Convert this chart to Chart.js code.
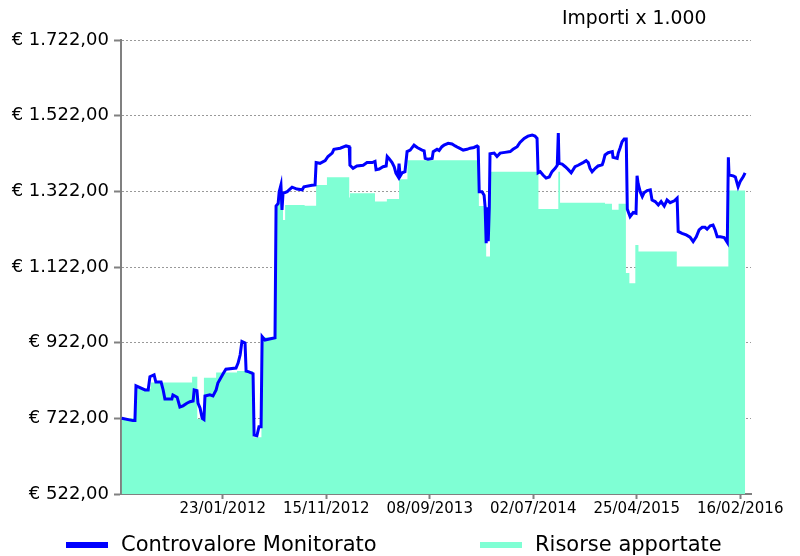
<!DOCTYPE html>
<html>
<head>
<meta charset="utf-8">
<script src="https://cdn.jsdelivr.net/npm/chart.js@4.4.1/dist/chart.umd.min.js"></script>
<style>
    body { margin: 0; background: #fff; font-family: 'DejaVu Sans', sans-serif; }
    #wrap { position: relative; width: 800px; height: 556px; }
    #title { position: absolute; left: 562px; top: 7px; font-size: 18.8px; line-height: 22px; color: #000; white-space: nowrap; }
    .legend-box { position: absolute; height: 6px; width: 42px; top: 542px; }
    .legend-text { position: absolute; top: 532px; font-size: 21px; line-height: 24px; color: #000; white-space: nowrap; }
</style>
</head>
<body>
<div id="wrap">
    <canvas id="line-chart"></canvas>
    <div id="title">Importi x 1.000</div>
    <div class="legend-box" style="left:66px;background:#0000FF"></div>
    <div class="legend-text" style="left:121px">Controvalore Monitorato</div>
    <div class="legend-box" style="left:480px;background:#7FFFD4"></div>
    <div class="legend-text" style="left:535px">Risorse apportate</div>
</div>
<script>

// Controvalore Monitorato (blue line)
const monitoredDates = [
    '2011-04-08', '2011-05-10', '2011-05-16', '2011-05-19', '2011-06-14', '2011-06-23', '2011-06-28', '2011-07-10',
    '2011-07-15', '2011-07-30', '2011-08-05', '2011-08-10', '2011-08-30', '2011-09-02', '2011-09-14', '2011-09-22',
    '2011-10-01', '2011-10-12', '2011-10-21', '2011-10-30', '2011-11-02', '2011-11-10', '2011-11-13', '2011-11-19',
    '2011-11-25', '2011-11-30', '2011-12-03', '2011-12-17', '2011-12-26', '2012-01-04', '2012-01-09', '2012-01-24',
    '2012-02-01', '2012-03-01', '2012-03-07', '2012-03-13', '2012-03-18', '2012-03-27', '2012-03-30', '2012-04-07',
    '2012-04-19', '2012-04-22', '2012-04-30', '2012-05-06', '2012-05-12', '2012-05-15', '2012-05-23', '2012-06-21',
    '2012-06-24', '2012-06-30', '2012-07-03', '2012-07-08', '2012-07-11', '2012-07-14', '2012-07-26', '2012-08-09',
    '2012-08-23', '2012-09-07', '2012-09-12', '2012-10-05', '2012-10-14', '2012-10-17', '2012-10-28', '2012-11-12',
    '2012-11-20', '2012-12-02', '2012-12-07', '2012-12-25', '2013-01-11', '2013-01-20', '2013-01-22', '2013-01-31',
    '2013-02-11', '2013-03-01', '2013-03-12', '2013-03-27', '2013-04-04', '2013-04-07', '2013-04-16', '2013-04-27',
    '2013-05-06', '2013-05-09', '2013-05-14', '2013-05-23', '2013-05-29', '2013-06-03', '2013-06-09', '2013-06-12',
    '2013-06-15', '2013-06-21', '2013-06-29', '2013-07-05', '2013-07-14', '2013-07-25', '2013-08-03', '2013-08-17',
    '2013-08-23', '2013-08-26', '2013-09-03', '2013-09-15', '2013-09-18', '2013-09-29', '2013-10-05', '2013-10-13',
    '2013-10-19', '2013-10-31', '2013-11-11', '2013-11-20', '2013-11-28', '2013-12-13', '2013-12-24', '2014-01-02',
    '2014-01-13', '2014-01-22', '2014-01-25', '2014-01-28', '2014-02-05', '2014-02-11', '2014-02-14', '2014-02-17',
    '2014-02-20', '2014-02-23', '2014-02-26', '2014-02-28', '2014-03-12', '2014-03-20', '2014-03-29', '2014-04-12',
    '2014-04-27', '2014-05-05', '2014-05-17', '2014-05-25', '2014-06-06', '2014-06-17', '2014-06-29', '2014-07-07',
    '2014-07-13', '2014-07-16', '2014-07-22', '2014-07-30', '2014-08-08', '2014-08-17', '2014-08-25', '2014-09-03',
    '2014-09-09', '2014-09-12', '2014-09-14', '2014-09-23', '2014-10-02', '2014-10-10', '2014-10-19', '2014-10-30',
    '2014-11-08', '2014-11-22', '2014-12-01', '2014-12-07', '2014-12-12', '2014-12-18', '2014-12-27', '2015-01-04',
    '2015-01-16', '2015-01-19', '2015-01-24', '2015-02-02', '2015-02-14', '2015-02-16', '2015-02-28', '2015-03-03',
    '2015-03-08', '2015-03-14', '2015-03-20', '2015-03-26', '2015-03-29', '2015-04-06', '2015-04-15', '2015-04-23',
    '2015-04-26', '2015-04-29', '2015-05-05', '2015-05-11', '2015-05-16', '2015-05-25', '2015-06-03', '2015-06-08',
    '2015-06-17', '2015-06-26', '2015-07-04', '2015-07-13', '2015-07-21', '2015-07-30', '2015-08-11', '2015-08-19',
    '2015-08-22', '2015-09-02', '2015-09-14', '2015-09-25', '2015-10-04', '2015-10-13', '2015-10-21', '2015-10-30',
    '2015-11-07', '2015-11-13', '2015-11-22', '2015-11-30', '2015-12-06', '2015-12-12', '2015-12-21', '2016-01-01',
    '2016-01-10', '2016-01-13', '2016-01-15', '2016-01-27', '2016-02-02', '2016-02-10', '2016-02-16', '2016-02-25',
    '2016-03-01'
];
const monitoredValues = [
    722, 716, 716, 808, 797, 797, 832, 837,
    818, 818, 797, 773, 773, 784, 778, 752,
    755, 762, 766, 768, 797, 795, 762, 749,
    722, 719, 781, 784, 781, 797, 815, 840,
    852, 855, 868, 890, 925, 921, 847, 845,
    840, 678, 676, 700, 700, 938, 929, 935,
    1283, 1290, 1321, 1339, 1273, 1317, 1321, 1333,
    1328, 1326, 1334, 1338, 1339, 1398, 1396, 1403,
    1414, 1423, 1433, 1436, 1442, 1440, 1391, 1383,
    1389, 1391, 1398, 1398, 1401, 1379, 1381, 1387,
    1389, 1414, 1409, 1398, 1387, 1370, 1361, 1395,
    1362, 1371, 1374, 1427, 1431, 1444, 1438, 1431,
    1429, 1409, 1407, 1409, 1427, 1433, 1430, 1440,
    1444, 1449, 1447, 1442, 1438, 1431, 1433, 1436,
    1438, 1442, 1440, 1321, 1321, 1312, 1280, 1185,
    1280, 1190, 1280, 1421, 1423, 1414, 1423, 1425,
    1427, 1433, 1440, 1451, 1462, 1468, 1471, 1468,
    1462, 1371, 1374, 1365, 1357, 1360, 1374, 1383,
    1391, 1476, 1396, 1394, 1387, 1380, 1371, 1387,
    1391, 1398, 1403, 1398, 1383, 1374, 1383, 1389,
    1392, 1400, 1418, 1424, 1427, 1412, 1409, 1423,
    1436, 1453, 1460, 1460, 1275, 1255, 1266, 1264,
    1363, 1343, 1321, 1308, 1318, 1324, 1326, 1299,
    1295, 1286, 1295, 1283, 1299, 1292, 1297, 1304,
    1216, 1211, 1207, 1201, 1189, 1202, 1220, 1227,
    1227, 1222, 1231, 1233, 1220, 1202, 1202, 1200,
    1187, 1412, 1365, 1363, 1360, 1334, 1348, 1361,
    1371
];

// Risorse apportate (green area, value holds until next date)
const contributedDates = [
    '2011-04-08', '2011-05-17', '2011-06-30', '2011-10-27', '2011-11-11', '2011-11-30', '2012-01-04', '2012-03-04',
    '2012-04-19', '2012-05-13', '2012-06-22', '2012-06-30', '2012-07-14', '2012-07-20', '2012-09-14', '2012-10-17',
    '2012-11-17', '2013-01-20', '2013-01-22', '2013-04-04', '2013-05-08', '2013-06-12', '2013-07-06', '2014-01-27',
    '2014-02-17', '2014-02-28', '2014-07-17', '2014-09-12', '2014-09-17', '2015-01-24', '2015-02-13', '2015-03-04',
    '2015-03-25', '2015-04-04', '2015-04-21', '2015-04-30', '2015-08-18', '2016-01-13', '2016-03-01'
];
const contributedValues = [
    722, 800, 817, 832, 720, 829, 843, 847,
    672, 936, 1283, 1315, 1246, 1286, 1284, 1339,
    1359, 1306, 1317, 1295, 1302, 1354, 1404, 1283,
    1150, 1374, 1275, 1374, 1292, 1289, 1273, 1289,
    1106, 1079, 1180, 1163, 1123, 1324, 1324
];

const xTickDates = ['2012-01-23', '2012-11-15', '2013-09-08', '2014-07-02', '2015-04-25', '2016-02-16'];
const yTickValues = [522, 722, 922, 1122, 1322, 1522, 1722];
const xStart = '2011-04-06';
const xEnd = '2016-03-18';

function toMs(d) {
    return new Date(d + 'T00:00:00Z').getTime();
}

function formatDate(ms) {
    const d = new Date(ms);
    const dd = String(d.getUTCDate()).padStart(2, '0');
    const mm = String(d.getUTCMonth() + 1).padStart(2, '0');
    return dd + '/' + mm + '/' + d.getUTCFullYear();
}

function formatEuro(v) {
    const s = String(Math.round(v)).replace(/\B(?=(\d{3})+(?!\d))/g, '.');
    return '€ ' + s + ',00';
}

Chart.defaults.font.family = "'DejaVu Sans', sans-serif";

new Chart(document.getElementById("line-chart"), {
    type: 'line',
    data: {
        datasets: [{
            label: 'Controvalore Monitorato',
            data: monitoredDates.map((d, i) => ({ x: toMs(d), y: monitoredValues[i] })),
            borderColor: '#0000FF',
            borderWidth: 3,
            pointRadius: 0,
            fill: false
        }, {
            label: 'Risorse apportate',
            data: contributedDates.map((d, i) => ({ x: toMs(d), y: contributedValues[i] })),
            borderColor: '#7FFFD4',
            backgroundColor: '#7FFFD4',
            borderWidth: 0,
            pointRadius: 0,
            stepped: true,
            fill: 'start'
        }]
    },
    options: {
        animation: false,
        responsive: true,
        maintainAspectRatio: false,
        layout: { padding: { left: 0, top: 40, right: 49, bottom: 0 } },
        plugins: {
            legend: { display: false },
            tooltip: { enabled: false }
        },
        scales: {
            x: {
                type: 'linear',
                min: toMs(xStart),
                max: toMs(xEnd),
                afterBuildTicks: (scale) => {
                    scale.ticks = xTickDates.map(d => ({ value: toMs(d) }));
                },
                afterFit: (scale) => { scale.height = 62; },
                grid: { drawOnChartArea: false, tickLength: 5, tickColor: '#808080', tickWidth: 2 },
                border: { color: '#808080', width: 2 },
                ticks: {
                    callback: (v) => formatDate(v),
                    autoSkip: false,
                    maxRotation: 0,
                    padding: 1,
                    color: '#000',
                    font: { size: 15 }
                }
            },
            y: {
                min: 522,
                max: 1722,
                afterBuildTicks: (scale) => {
                    scale.ticks = yTickValues.map(v => ({ value: v }));
                },
                afterFit: (scale) => { scale.width = 121; },
                grid: { color: '#999999', lineWidth: 1, tickLength: 7, tickColor: '#808080', tickWidth: 2, tickBorderDash: [] },
                border: { color: '#808080', width: 2, dash: [2, 2] },
                ticks: {
                    callback: (v) => formatEuro(v),
                    padding: 5,
                    color: '#000',
                    font: { size: 18 }
                }
            }
        }
    }
});
</script>
</body>
</html>
